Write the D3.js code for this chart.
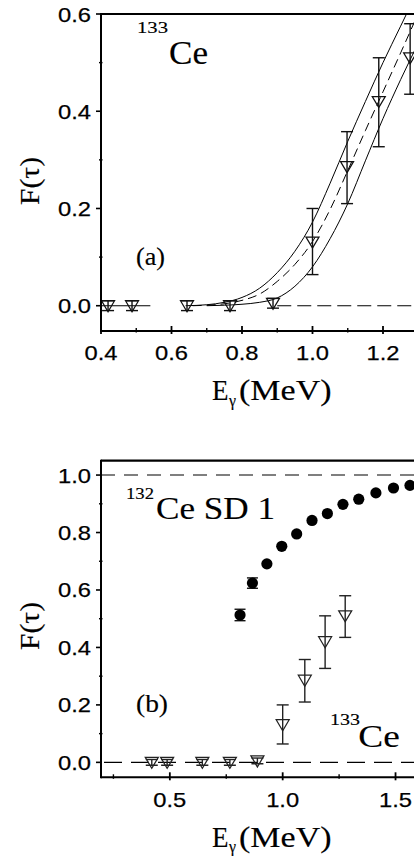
<!DOCTYPE html>
<html><head><meta charset="utf-8">
<script src="https://cdn.jsdelivr.net/npm/d3@7"></script>
<style>html,body{margin:0;padding:0;background:#fff;overflow:hidden}</style>
</head><body>
<svg id="c" width="414" height="856"></svg>
<script>
// ---------- data ----------
// 133Ce open triangles (same in both panels)
const ce133E  = [0.42, 0.488, 0.644, 0.766, 0.888, 1.0, 1.098, 1.188, 1.277];
const ce133F  = [0.0, 0.0, 0.0, 0.0, 0.005, 0.131, 0.286, 0.42, 0.51];
const ce133Lo = [-0.01, -0.01, -0.01, -0.01, -0.005, 0.064, 0.21, 0.327, 0.435];
const ce133Hi = [0.01, 0.01, 0.01, 0.01, 0.015, 0.2, 0.358, 0.51, 0.58];

// 132Ce SD 1 filled circles
const sd1E  = [0.811, 0.866, 0.93, 0.996, 1.062, 1.13, 1.198, 1.267, 1.337, 1.413, 1.491, 1.564];
const sd1F  = [0.513, 0.624, 0.691, 0.752, 0.795, 0.842, 0.866, 0.898, 0.916, 0.938, 0.955, 0.964];
const sd1Er = [0.02, 0.018, 0, 0, 0, 0, 0, 0, 0, 0, 0, 0];

// panel (a) model curves
const upperE = [0.64, 0.70, 0.75, 0.80, 0.85, 0.90, 0.95, 1.00, 1.05, 1.10, 1.15, 1.20, 1.25, 1.27, 1.30];
const upperF = [0.0, 0.002, 0.007, 0.017, 0.036, 0.068, 0.112, 0.172, 0.252, 0.338, 0.42, 0.5, 0.575, 0.605, 0.65];
const midE   = [0.66, 0.70, 0.75, 0.80, 0.85, 0.90, 0.95, 1.00, 1.05, 1.10, 1.15, 1.20, 1.25, 1.29];
const midF   = [0.0, 0.001, 0.004, 0.011, 0.024, 0.05, 0.085, 0.132, 0.198, 0.278, 0.36, 0.44, 0.52, 0.585];
const lowerE = [0.70, 0.75, 0.80, 0.85, 0.90, 0.95, 1.00, 1.05, 1.10, 1.15, 1.20, 1.25, 1.30];
const lowerF = [0.0, 0.001, 0.003, 0.007, 0.016, 0.04, 0.08, 0.138, 0.21, 0.298, 0.385, 0.465, 0.54];

// reference lines
const zeroSolidA = [0.4, 0.54];
const zeroDashA  = [0.9, 1.4];
const refLinesB  = [0.0, 1.0];

// ticks
const yMajorA = [0.0, 0.2, 0.4, 0.6];
const yLabelsA = ["0.0", "0.2", "0.4", "0.6"];
const yMinorA = [0.1, 0.3, 0.5];
const xMajorA = [0.4, 0.6, 0.8, 1.0, 1.2];
const xLabelsA = ["0.4", "0.6", "0.8", "1.0", "1.2"];
const xMinorA = [0.5, 0.7, 0.9, 1.1, 1.3];

const yMajorB = [0.0, 0.2, 0.4, 0.6, 0.8, 1.0];
const yLabelsB = ["0.0", "0.2", "0.4", "0.6", "0.8", "1.0"];
const yMinorB = [0.1, 0.3, 0.5, 0.7, 0.9];
const xMajorB = [0.5, 1.0, 1.5];
const xLabelsB = ["0.5", "1.0", "1.5"];
const xMinorB = [0.25, 0.75, 1.25];

// ---------- drawing ----------
const svg = d3.select("#c");
const serif = "'Liberation Serif','Times New Roman',serif";
const sans = "'Liberation Sans',Arial,sans-serif";
const W = 414;

function txt(g, x, y, s, size, fam, len, anchor) {
  const t = g.append("text").attr("x", x).attr("y", y).text(s)
    .attr("font-size", size).attr("font-family", fam).attr("fill", "#000")
    .attr("stroke", "#000").attr("stroke-width", fam === sans ? 0.25 : 0.15)
    .attr("text-anchor", anchor || "start");
  if (len) t.attr("textLength", len).attr("lengthAdjust", "spacingAndGlyphs");
  return t;
}

function panel(id, x, y, o) {
  const g = svg.append("g");
  const x0 = x.range()[0], top = y.range()[1], bot = y.range()[0];
  g.append("clipPath").attr("id", id).append("rect")
    .attr("x", x0).attr("y", top).attr("width", W - x0).attr("height", bot - top);
  const plot = g.append("g").attr("clip-path", `url(#${id})`);

  // frame
  g.append("line").attr("x1", x0).attr("x2", W).attr("y1", top).attr("y2", top)
    .attr("stroke", "#000").attr("stroke-width", 2.2);
  g.append("line").attr("x1", x0).attr("x2", W).attr("y1", bot).attr("y2", bot)
    .attr("stroke", "#000").attr("stroke-width", 2);
  g.append("line").attr("x1", x0).attr("x2", x0).attr("y1", top - 1).attr("y2", bot + 1)
    .attr("stroke", "#000").attr("stroke-width", 2);

  // y ticks
  o.yMajor.forEach((v, i) => {
    g.append("line").attr("x1", x0 - 5).attr("x2", x0).attr("y1", y(v)).attr("y2", y(v))
      .attr("stroke", "#000").attr("stroke-width", 1.6);
    txt(g, 91, y(v) + 7.5, o.yLabels[i], 21, sans, 33, "end");
  });
  o.yMinor.forEach(v => {
    g.append("line").attr("x1", x0 - 2).attr("x2", x0 + 1.5).attr("y1", y(v)).attr("y2", y(v))
      .attr("stroke", "#000").attr("stroke-width", 1.4);
  });
  // x ticks
  o.xMajor.forEach((v, i) => {
    g.append("line").attr("x1", x(v)).attr("x2", x(v)).attr("y1", bot - 5).attr("y2", bot + 3)
      .attr("stroke", "#000").attr("stroke-width", 1.8);
    txt(g, x(v), bot + o.xLabDy, o.xLabels[i], 21, sans, 33, "middle");
  });
  o.xMinor.forEach(v => {
    g.append("line").attr("x1", x(v)).attr("x2", x(v)).attr("y1", bot - 3).attr("y2", bot + 1.5)
      .attr("stroke", "#000").attr("stroke-width", 1.4);
  });
  return plot;
}

function triangles(plot, x, y, col) {
  const d = ce133E.map((e, i) => ({e, f: ce133F[i], lo: ce133Lo[i], hi: ce133Hi[i]}));
  const gb = plot.append("g").attr("stroke", col).attr("stroke-width", 1.4).attr("fill", "none");
  d.forEach(p => {
    const cx = x(p.e);
    gb.append("line").attr("x1", cx).attr("x2", cx).attr("y1", y(p.lo)).attr("y2", y(p.hi));
    gb.append("line").attr("x1", cx - 6).attr("x2", cx + 6).attr("y1", y(p.lo)).attr("y2", y(p.lo));
    gb.append("line").attr("x1", cx - 6).attr("x2", cx + 6).attr("y1", y(p.hi)).attr("y2", y(p.hi));
    const cy = y(p.f);
    gb.append("path").attr("d", `M${cx - 6.5},${cy - 5}L${cx + 6.5},${cy - 5}L${cx},${cy + 6}Z`)
      .attr("stroke-width", 1.25).attr("fill", "none").attr("stroke-linejoin", "miter");
  });
}

// ----- panel (a) -----
const xA = d3.scaleLinear().domain([0.4, 1.4]).range([101, 453.5]);
const yA = d3.scaleLinear().domain([-0.052, 0.6]).range([331, 14]);
const pA = panel("clipA", xA, yA, {yMajor: yMajorA, yLabels: yLabelsA, yMinor: yMinorA,
  xMajor: xMajorA, xLabels: xLabelsA, xMinor: xMinorA, xLabDy: 29});

pA.append("line").attr("x1", xA(zeroSolidA[0])).attr("x2", xA(zeroSolidA[1]))
  .attr("y1", yA(0)).attr("y2", yA(0)).attr("stroke", "#000").attr("stroke-width", 1.1);
pA.append("line").attr("x1", xA(zeroDashA[0])).attr("x2", xA(zeroDashA[1]))
  .attr("y1", yA(0)).attr("y2", yA(0)).attr("stroke", "#000").attr("stroke-width", 1.1)
  .attr("stroke-dasharray", "14,6");

const lineA = d3.line().x(d => xA(d[0])).y(d => yA(d[1])).curve(d3.curveMonotoneX);
pA.append("path").attr("d", lineA(upperE.map((e, i) => [e, upperF[i]])))
  .attr("fill", "none").attr("stroke", "#000").attr("stroke-width", 1);
pA.append("path").attr("d", lineA(lowerE.map((e, i) => [e, lowerF[i]])))
  .attr("fill", "none").attr("stroke", "#000").attr("stroke-width", 1);
pA.append("path").attr("d", lineA(midE.map((e, i) => [e, midF[i]])))
  .attr("fill", "none").attr("stroke", "#000").attr("stroke-width", 1).attr("stroke-dasharray", "9,5");
triangles(pA, xA, yA, "#111");

const tA = svg.append("g");
txt(tA, 137, 33, "133", 17, serif, 31);
txt(tA, 169, 63.5, "Ce", 33, serif, 39);
txt(tA, 136, 265, "(a)", 25, serif, 29);
txt(tA, 0, 0, "F(τ)", 28, serif, 48, "middle").attr("transform", "translate(39,181) rotate(-90)");
txt(tA, 212, 400, "E", 30, serif, 16.5);
txt(tA, 229, 406, "γ", 16, serif, 7);
txt(tA, 239, 400, "(MeV)", 30, serif, 92.5);

// ----- panel (b) -----
const xB = d3.scaleLinear().domain([0.195, 1.6]).range([101, 418.1]);
const yB = d3.scaleLinear().domain([-0.052, 1.05]).range([777.3, 460.7]);
const pB = panel("clipB", xB, yB, {yMajor: yMajorB, yLabels: yLabelsB, yMinor: yMinorB,
  xMajor: xMajorB, xLabels: xLabelsB, xMinor: xMinorB, xLabDy: 29.5});

pB.append("line").attr("x1", xB.range()[0]).attr("x2", W)
  .attr("y1", yB(refLinesB[0])).attr("y2", yB(refLinesB[0])).attr("stroke", "#000")
  .attr("stroke-width", 1.1).attr("stroke-dasharray", "18,9").attr("stroke-dashoffset", -3);
pB.append("line").attr("x1", xB.range()[0]).attr("x2", W)
  .attr("y1", yB(refLinesB[1])).attr("y2", yB(refLinesB[1])).attr("stroke", "#000")
  .attr("stroke-width", 1.1).attr("stroke-dasharray", "14,9");

triangles(pB, xB, yB, "#222");
sd1E.forEach((e, i) => {
  const cx = xB(e), cy = yB(sd1F[i]);
  if (sd1Er[i] > 0) {
    [sd1F[i] - sd1Er[i], sd1F[i] + sd1Er[i]].forEach(v => {
      pB.append("line").attr("x1", cx - 5.5).attr("x2", cx + 5.5).attr("y1", yB(v)).attr("y2", yB(v))
        .attr("stroke", "#000").attr("stroke-width", 1.3);
    });
    pB.append("line").attr("x1", cx).attr("x2", cx).attr("y1", yB(sd1F[i] - sd1Er[i])).attr("y2", yB(sd1F[i] + sd1Er[i]))
      .attr("stroke", "#000").attr("stroke-width", 1.3);
  }
  pB.append("circle").attr("cx", cx).attr("cy", cy).attr("r", 5.6).attr("fill", "#000");
});

const tB = svg.append("g");
txt(tB, 126, 498.5, "132", 17, serif, 28);
txt(tB, 156, 518.5, "Ce SD 1", 31, serif, 119);
txt(tB, 136, 711.5, "(b)", 25, serif, 32);
txt(tB, 330, 725, "133", 17, serif, 30);
txt(tB, 358.3, 747, "Ce", 32, serif, 41.5);
txt(tB, 0, 0, "F(τ)", 28, serif, 48, "middle").attr("transform", "translate(39,626) rotate(-90)");
txt(tB, 212, 846.5, "E", 30, serif, 16.5);
txt(tB, 229, 851.5, "γ", 16, serif, 7);
txt(tB, 239, 846.5, "(MeV)", 30, serif, 92.5);
</script>
</body></html>
